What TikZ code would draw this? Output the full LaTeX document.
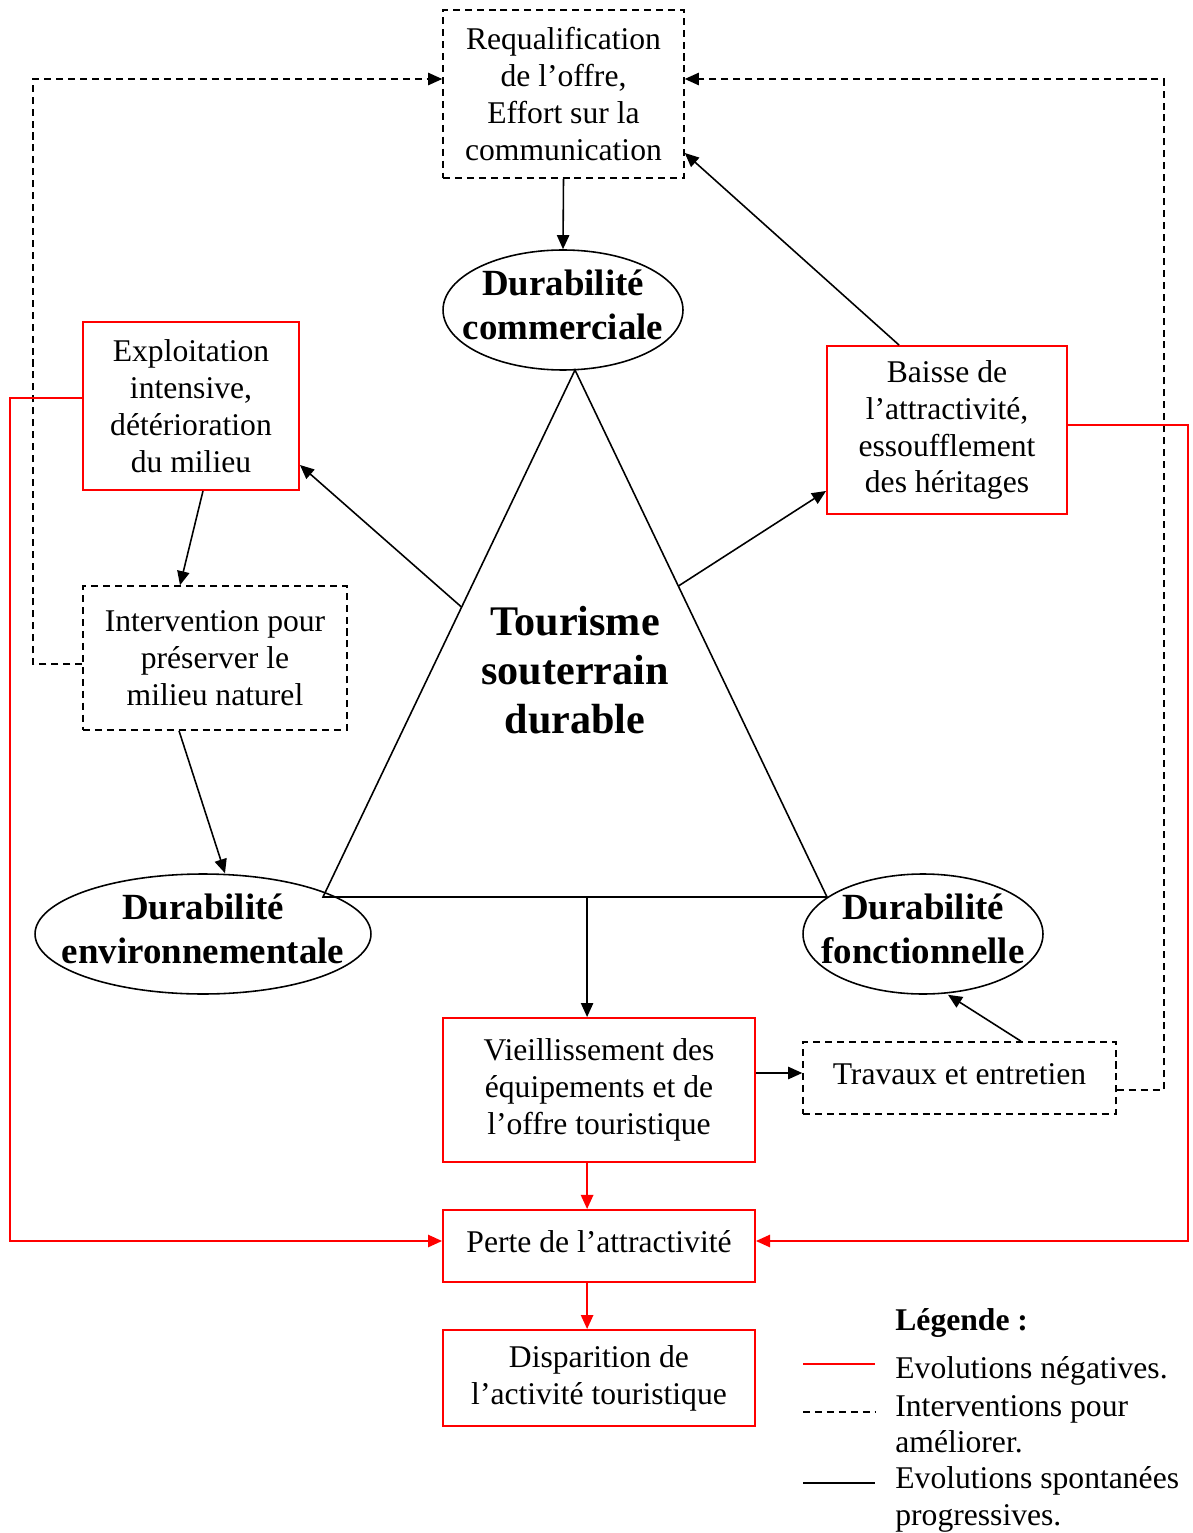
\documentclass[tikz,border=0pt]{standalone}
\usepackage{fontspec}
\setmainfont{Liberation Serif}
\usetikzlibrary{positioning,shapes.geometric,arrows.meta,calc}
\definecolor{neg}{RGB}{255,0,0}

\begin{document}
\begin{tikzpicture}[x=0.02cm,y=-0.02cm,>={Triangle[length=8pt,width=7pt]},
  txt/.style={font=\fontsize{18}{21}\selectfont,align=center,inner sep=0pt},
  negbox/.style={txt,draw=neg,line width=1.1pt},
  intbox/.style={txt,draw,line width=0.9pt,dash pattern=on 4pt off 2.8pt},
  durell/.style={ellipse,draw,line width=0.9pt,inner sep=0pt,minimum height=2.4cm},
  durtxt/.style={align=center,inner sep=0pt,font=\fontsize{21}{25}\selectfont\bfseries},
  evoline/.style={line width=0.9pt},
  negline/.style={color=neg,line width=1pt},
  intline/.style={line width=0.9pt,dash pattern=on 4pt off 2.8pt},
  evo/.style={evoline,->},
  negl/.style={negline,->},
  intl/.style={intline,->},
  legtxt/.style={txt,anchor=base west}]
  \useasboundingbox (0,0) rectangle (1192,1533);

  % ---------------- the three sustainabilities ----------------
  \node[durell,minimum width=4.8cm] (comm) at (563,310) {};
  \node[durtxt] (commt) at ([yshift=0.1cm]comm.center) {Durabilit\'e\\commerciale};
  \node[durell,minimum width=6.72cm] (env) at (203,934) {};
  \node[durtxt] (envt) at ([yshift=0.1cm]env.center) {Durabilit\'e\\environnementale};
  \node[durell,minimum width=4.8cm] (fonct) at (923,934) {};
  \node[durtxt] (fonctt) at ([yshift=0.1cm]fonct.center) {Durabilit\'e\\fonctionnelle};

  % triangle and its centre text
  \coordinate (apex) at (575,370);
  \coordinate (bl) at (323,897);
  \coordinate (br) at (827,897);
  \draw[evoline] (apex) -- (bl) -- (br) -- cycle;
  \coordinate (tl) at ($(apex)!0.45!(bl)$);
  \coordinate (tr) at ($(apex)!0.41!(br)$);
  \coordinate (bm) at ($(bl)!0.524!(br)$);
  \node[align=center,inner sep=0pt,font=\fontsize{24}{28}\selectfont\bfseries] (tsd) at (575,670) {Tourisme\\souterrain\\durable};

  % ---------------- boxes ----------------
  \node[intbox,minimum width=4.82cm,minimum height=3.36cm] (requal) at (563.5,94) {Requalification\\de l’offre,\\Effort sur la\\communication};
  \node[negbox,minimum width=4.32cm,minimum height=3.36cm] (expl) at (191,406) {Exploitation\\intensive,\\d\'et\'erioration\\du milieu};
  \node[negbox,minimum width=4.8cm,minimum height=3.36cm] (baisse) at (947,430) {Baisse de\\l’attractivit\'e,\\essoufflement\\des h\'eritages};
  \node[intbox,minimum width=5.28cm,minimum height=2.88cm] (inter) at (215,658) {Intervention pour\\pr\'eserver le\\milieu naturel};
  \node[negbox,minimum width=6.24cm,minimum height=2.88cm] (vieil) at (599,1090) {Vieillissement des\\\'equipements et de\\l’offre touristique};
  \node[intbox,minimum width=6.26cm,minimum height=1.44cm,text depth=5pt] (trav) at (959.5,1078) {Travaux et entretien};
  \node[negbox,minimum width=6.24cm,minimum height=1.44cm,text depth=5pt] (perte) at (599,1246) {Perte de l’attractivit\'e};
  \node[negbox,minimum width=6.24cm,minimum height=1.92cm] (disp) at (599,1378) {Disparition de\\l’activit\'e touristique};

  % ---------------- spontaneous evolutions ----------------
  \draw[evo] (requal.south) -- (comm.north);
  \draw[evo] (tl) -- ([yshift=-1.18cm]expl.east);
  \draw[evo] (tr) -- ([yshift=-1.22cm]baisse.west);
  \draw[evo] ([xshift=-0.96cm]baisse.north) -- ([yshift=-1.18cm]requal.east);
  \draw[evo] ([xshift=0.24cm]expl.south) -- ([xshift=-0.7cm]inter.north);
  \draw[evo] ([xshift=-0.72cm]inter.south) -- ([xshift=0.44cm]env.north);
  \draw[evo] (bm) -- (bm |- vieil.north);
  \draw[evo] ([yshift=0.34cm]vieil.east) -- ([yshift=0.34cm]vieil.east -| trav.west);
  \draw[evo] ([xshift=1.23cm]trav.north) -- ([xshift=0.5cm]fonct.south);

  % ---------------- interventions ----------------
  \draw[intl] ([yshift=-0.12cm]inter.west) -- ++(-49,0) |- ([yshift=0.3cm]requal.west);
  \draw[intl] ([yshift=-0.24cm]trav.east) -- ++(47,0) |- ([yshift=0.3cm]requal.east);

  % ---------------- negative evolutions ----------------
  \draw[negl] (bm |- vieil.south) -- (bm |- perte.north);
  \draw[negl] (bm |- perte.south) -- (bm |- disp.north);
  \draw[negl] ([yshift=0.16cm]expl.west) -- ++(-72,0) |- ([yshift=0.1cm]perte.west);
  \draw[negl] ([yshift=0.1cm]baisse.east) -- ++(120,0) |- ([yshift=0.1cm]perte.east);

  % ---------------- legend ----------------
  \node[legtxt,font=\fontsize{18}{21}\selectfont\bfseries] (legt) at (895,1330) {L\'egende :};
  \node[legtxt] (leg1) at (895,1378) {Evolutions n\'egatives.};
  \node[legtxt] (leg2) at (895,1416) {Interventions pour};
  \node[legtxt] (leg2b) at (895,1452) {am\'eliorer.};
  \node[legtxt] (leg3) at (895,1488) {Evolutions spontan\'ees};
  \node[legtxt] (leg3b) at (895,1525) {progressives.};
  \draw[negline] ([xshift=-1.84cm,yshift=0.28cm]leg1.base west) -- ++(72,0);
  \draw[intline] ([xshift=-1.84cm,yshift=0.08cm]leg2.base west) -- ++(72,0);
  \draw[evoline,line width=1.1pt] ([xshift=-1.84cm,yshift=0.1cm]leg3.base west) -- ++(72,0);
\end{tikzpicture}
\end{document}
